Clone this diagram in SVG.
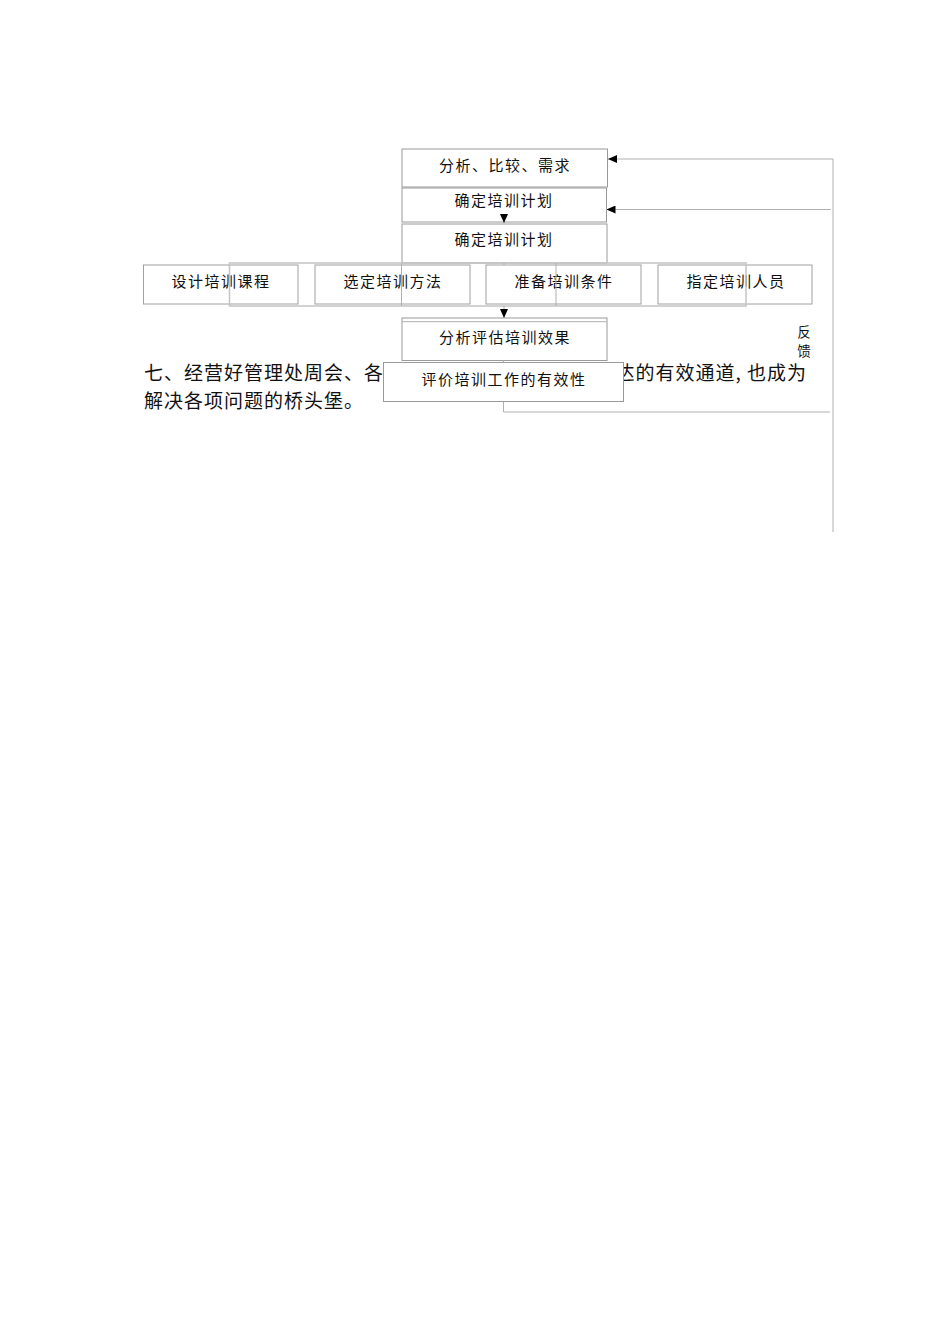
<svg xmlns="http://www.w3.org/2000/svg" width="950" height="1344" viewBox="0 0 950 1344">
<style>
.box{fill:#fff;stroke:#9a9a9a;stroke-width:1}
.rowbox{fill:none;stroke:#a0a0a0;stroke-width:1}
.lbl{font-family:"Noto Sans CJK SC","Noto Sans CJK TC",sans-serif;font-size:15px;fill:#111;text-anchor:middle;letter-spacing:1.5px}
.fb{font-family:"Noto Sans CJK SC","Noto Sans CJK TC",sans-serif;font-size:13.5px;fill:#111;text-anchor:middle}
.para{font-family:"Noto Sans CJK SC","Noto Sans CJK TC",sans-serif;font-size:19px;letter-spacing:1px;fill:#111}
.conn{fill:none;stroke:#b0b0b0;stroke-width:1}
.shadow{fill:none;stroke:#c4c4c4;stroke-width:1.5}
</style>
<defs>
<marker id="ah" viewBox="0 0 10 10" refX="10" refY="5" markerWidth="9" markerHeight="8" markerUnits="userSpaceOnUse" orient="auto" preserveAspectRatio="none"><path d="M0,0L10,5L0,10z" fill="#000"/></marker>
</defs>
<rect width="950" height="1344" fill="#fff"/>
<g id="paragraph">
<text class="para" x="144" y="380">七、经营好管理处周会、各</text>
<text class="para" x="807" y="380" text-anchor="end">达的有效通道, 也成为</text>
<text class="para" x="144" y="408">解决各项问题的桥头堡。</text>
</g>
<g id="n1"><rect class="box" x="402" y="149" width="205.5" height="38"/><text class="lbl" x="505" y="171">分析、比较、需求</text></g>
<g id="n2"><rect class="box" x="402" y="188" width="204.5" height="34"/><text class="lbl" x="504" y="206">确定培训计划</text></g>
<g id="n3"><rect class="box" x="402" y="224" width="205" height="39"/><text class="lbl" x="504" y="245">确定培训计划</text></g>
<g id="n4"><rect class="rowbox" x="143.5" y="265" width="154.5" height="39"/><text class="lbl" x="221" y="287">设计培训课程</text></g>
<g id="n5"><rect class="rowbox" x="315" y="265" width="155" height="39"/><text class="lbl" x="393" y="287">选定培训方法</text></g>
<g id="n6"><rect class="rowbox" x="486" y="265" width="155" height="39"/><text class="lbl" x="564" y="287">准备培训条件</text></g>
<g id="n7"><rect class="rowbox" x="658" y="265" width="154" height="39"/><text class="lbl" x="736" y="287">指定培训人员</text></g>
<g id="rowlayer">
<rect class="shadow" x="229.5" y="263" width="516.5" height="43"/>
<line class="conn" x1="401.5" y1="263" x2="401.5" y2="306"/>
<line class="conn" x1="556" y1="263" x2="556" y2="306"/>
</g>
<g id="n8"><rect class="box" x="402" y="318" width="205" height="42.5"/><line class="conn" x1="402" y1="321.7" x2="607" y2="321.7"/><text class="lbl" x="505" y="343">分析评估培训效果</text></g>
<g id="n9"><rect class="box" x="383.5" y="362.5" width="240" height="39"/><text class="lbl" x="504" y="385">评价培训工作的有效性</text></g>
<g id="feedback-label">
<text class="fb" x="804" y="336.5">反</text>
<text class="fb" x="804" y="355.5">馈</text>
</g>
<g id="connectors">
<path class="conn" d="M504,214 L504,223" marker-end="url(#ah)"/>
<path class="conn" d="M504,263 L504,265"/>
<path class="conn" d="M504,306 L504,318" marker-end="url(#ah)"/>
<path class="conn" d="M503.5,360.5 L503.5,362.5"/>
<path class="conn" d="M503.5,401.5 L503.5,412 L830,412"/>
<path class="conn" d="M833,532 L833,159 L608,159" marker-end="url(#ah)"/>
<path class="conn" d="M831,209.5 L606.5,209.5" marker-end="url(#ah)"/>
</g>
</svg>
